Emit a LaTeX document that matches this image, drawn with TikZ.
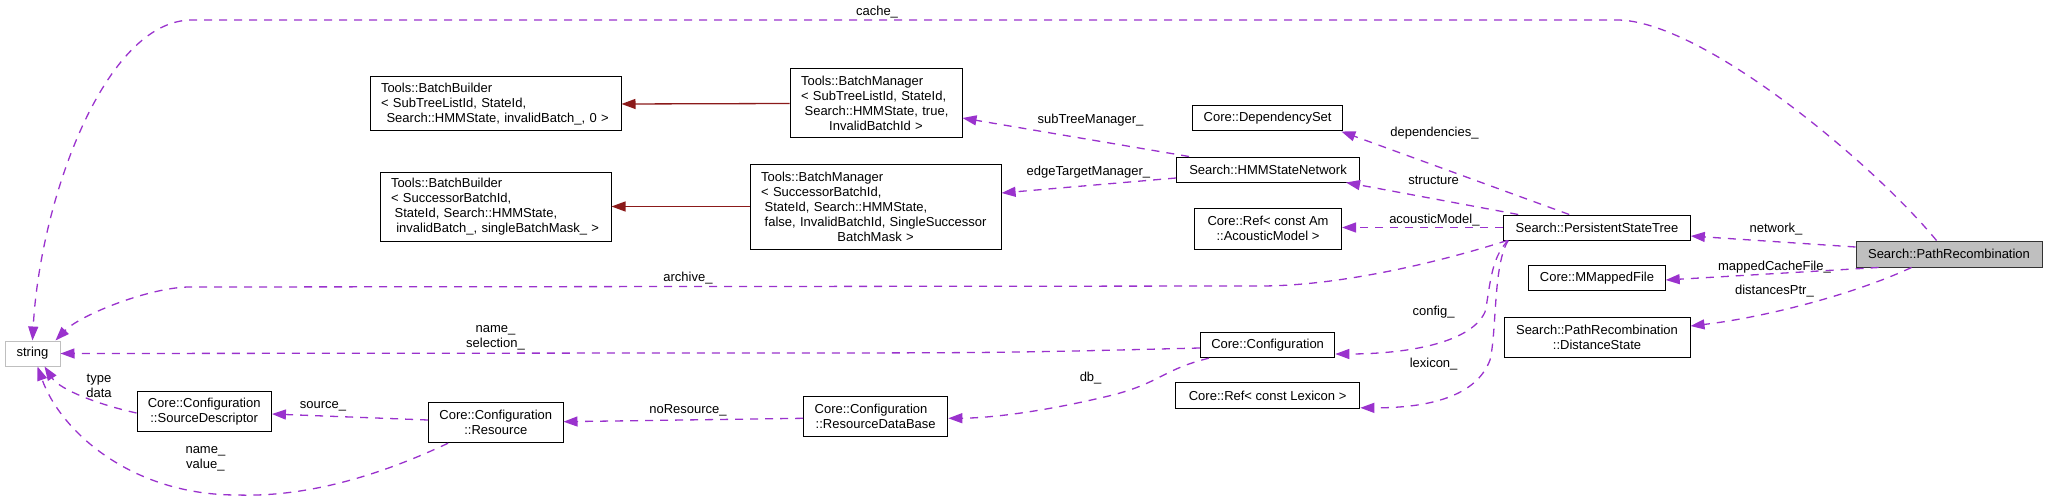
\documentclass[tikz,border=0pt]{standalone}
\usepackage{fontspec}
\setmainfont{Liberation Sans}
\usetikzlibrary{arrows.meta,calc}
\definecolor{dpurple}{RGB}{154,50,205}
\definecolor{dred}{RGB}{139,26,26}
\definecolor{lgray}{RGB}{191,191,191}
\begin{document}
\begin{tikzpicture}[x=1pt,y=-1pt,
  cls/.style={draw=black, line width=1pt, inner sep=0pt, font=\fontsize{13}{15}\selectfont, fill=white},
  lbl/.style={inner sep=0pt, font=\fontsize{13}{15}\selectfont},
  uses/.style={draw=dpurple, line width=1.3pt, dash pattern=on 8pt off 7pt, -{Triangle[length=14pt,width=10pt]}},
  inh/.style={draw=dred, line width=1.3pt, -{Triangle[length=14pt,width=10pt]}}]
\useasboundingbox (0,0) rectangle (2047,500);

% nodes
\node[cls, draw=lgray, minimum width=55pt, minimum height=25pt] (str) at (32.5,353.5) {string};
\node[cls, minimum width=251pt, minimum height=54pt, text width=229pt, align=left] (bb1) at (495.5,104)
  {Tools::BatchBuilder\\< SubTreeListId, StateId,\\\makebox[\linewidth]{\ Search::HMMState, invalidBatch\_, 0 >}};
\node[cls, minimum width=231pt, minimum height=69pt, text width=209pt, align=left] (bb2) at (495.5,206.5)
  {Tools::BatchBuilder\\< SuccessorBatchId,\\\hspace*{3.6pt}StateId, Search::HMMState,\\\makebox[\linewidth]{\ invalidBatch\_, singleBatchMask\_ >}};
\node[cls, minimum width=172pt, minimum height=69pt, text width=150pt, align=left] (bm1) at (876,103.5)
  {Tools::BatchManager\\< SubTreeListId, StateId,\\\hspace*{3.6pt}Search::HMMState, true,\\\makebox[\linewidth]{InvalidBatchId >}};
\node[cls, minimum width=251pt, minimum height=85pt, text width=229pt, align=left] (bm2) at (875.6,206.5)
  {Tools::BatchManager\\< SuccessorBatchId,\\\hspace*{3.6pt}StateId, Search::HMMState,\\\hspace*{3.6pt}false, InvalidBatchId, SingleSuccessor\\\makebox[\linewidth]{BatchMask >}};
\node[cls, minimum width=183pt, minimum height=25pt] (hmm) at (1268,169.5) {Search::HMMStateNetwork};
\node[cls, minimum width=150.5pt, minimum height=25pt] (dep) at (1267.6,118.5) {Core::DependencySet};
\node[cls, minimum width=147pt, minimum height=41pt, align=center] (refam) at (1268,228.5) {Core::Ref< const Am\\::AcousticModel >};
\node[cls, minimum width=186.6pt, minimum height=25pt] (pst) at (1597,227.5) {Search::PersistentStateTree};
\node[cls, fill=lgray, draw=black!80, minimum width=186pt, minimum height=26pt] (pr) at (1949,254) {Search::PathRecombination};
\node[cls, minimum width=136.4pt, minimum height=25pt] (mmf) at (1597,278.3) {Core::MMappedFile};
\node[cls, minimum width=186pt, minimum height=40pt, align=center] (ds) at (1597,337) {Search::PathRecombination\\::DistanceState};
\node[cls, minimum width=134.4pt, minimum height=25pt] (conf) at (1267.6,345.2) {Core::Configuration};
\node[cls, minimum width=184.4pt, minimum height=25.7pt] (reflex) at (1267.6,395.8) {Core::Ref< const Lexicon >};
\node[cls, minimum width=144.2pt, minimum height=40pt, text width=122pt, align=left] (rdb) at (875.7,416.8)
  {Core::Configuration\\\makebox[\linewidth]{::ResourceDataBase}};
\node[cls, minimum width=134.4pt, minimum height=40pt, align=center] (sd) at (204.2,411.7) {Core::Configuration\\::SourceDescriptor};
\node[cls, minimum width=134.4pt, minimum height=40pt, align=center] (res) at (495.8,422.7) {Core::Configuration\\::Resource};

% inheritance
\draw[inh] (bm1.west) -- (bb1.east);
\draw[inh] (bm2.west) -- (bb2.east);

% usage edges
\draw[uses] ([xshift=13pt]hmm.north west) -- ([yshift=-14.5pt]bm1.east);
\draw[uses] ([yshift=-8.5pt]hmm.west) -- ([yshift=13.5pt]bm2.east);
\draw[uses] ([xshift=66pt]pst.north west) -- ([xshift=-2pt]dep.south east);
\draw[uses] ([xshift=15pt]pst.north west) -- ([xshift=-14pt]hmm.south east);
\draw[uses] (pst.west) -- (pst.west -| refam.east);
\draw[uses] ([xshift=4pt]pst.south west) .. controls (1440,262) and (1340,286) .. (1260,286) -- (190,287) .. controls (150,287) and (80,315) .. ([xshift=-5pt]str.north east);
\draw[uses] ([xshift=5pt]pst.south west) .. controls (1490,258) and (1490,290) .. (1485,312) .. controls (1470,345) and (1400,354) .. ([yshift=-8.8pt]conf.east);
\draw[uses] ([xshift=5pt]pst.south west) .. controls (1493,265) and (1497,330) .. (1490,360) .. controls (1475,400) and (1420,408) .. ([yshift=-12pt]reflex.east);
\draw[uses] ([yshift=7pt]pr.west) -- ([yshift=-8.5pt]pst.east);
\draw[uses] ([xshift=23pt]pr.south west) -- ([yshift=-1.7pt]mmf.east);
\draw[uses] ([xshift=56pt]pr.south west) .. controls (1850,296) and (1760,318) .. ([yshift=11pt]ds.east);
\draw[uses] ([xshift=81pt]pr.north west) .. controls (1870,160) and (1700,20) .. (1617,20) -- (192,20) .. controls (105,20) and (40,200) .. ([xshift=28pt]str.north west);
\draw[uses] ([yshift=-2.8pt]conf.west) .. controls (1000,353) .. (700,353) -- (str.east);
\draw[uses] ([xshift=9pt]conf.south west) .. controls (1160,370) and (1160,385) .. (1100,398) .. controls (1040,412) and (990,418) .. ([yshift=-1.5pt]rdb.east);
\draw[uses] ([yshift=-1.5pt]rdb.west) -- ([yshift=1pt]res.east);
\draw[uses] ([yshift=2.7pt]res.west) -- ([yshift=-2.3pt]sd.east);
\draw[uses] ([yshift=-1.3pt]sd.west) .. controls (100,405) and (60,390) .. ([xshift=40pt]str.south west);
\draw[uses] ([xshift=20pt]res.south west) .. controls (370,480) and (300,497) .. (237,495) .. controls (130,495) and (60,430) .. ([xshift=33pt]str.south west);

% labels
\node[lbl] (l1) at (877,12) {cache\_};
\node[lbl] (l2) at (1090.6,120) {subTreeManager\_};
\node[lbl] (l3) at (1088.4,172) {edgeTargetManager\_};
\node[lbl] (l4) at (1434.4,133) {dependencies\_};
\node[lbl] (l5) at (1433.6,180) {structure};
\node[lbl] (l6) at (1434.4,220) {acousticModel\_};
\node[lbl] (l7) at (1776,229) {network\_};
\node[lbl] (l8) at (1774.4,267) {mappedCacheFile\_};
\node[lbl] (l9) at (1774.4,291) {distancesPtr\_};
\node[lbl] (l10) at (1433.6,312) {config\_};
\node[lbl] (l11) at (1433.6,364) {lexicon\_};
\node[lbl] (l12) at (688,278) {archive\_};
\node[lbl, align=center] (l13) at (495.5,338) {name\_\\selection\_};
\node[lbl] (l14) at (1090.6,378) {db\_};
\node[lbl] (l15) at (688,410.7) {noResource\_};
\node[lbl] (l16) at (323,406.7) {source\_};
\node[lbl, align=center] (l17) at (99,385.5) {type\\data};
\node[lbl, align=center] (l18) at (205.4,459) {name\_\\value\_};
\end{tikzpicture}
\end{document}
